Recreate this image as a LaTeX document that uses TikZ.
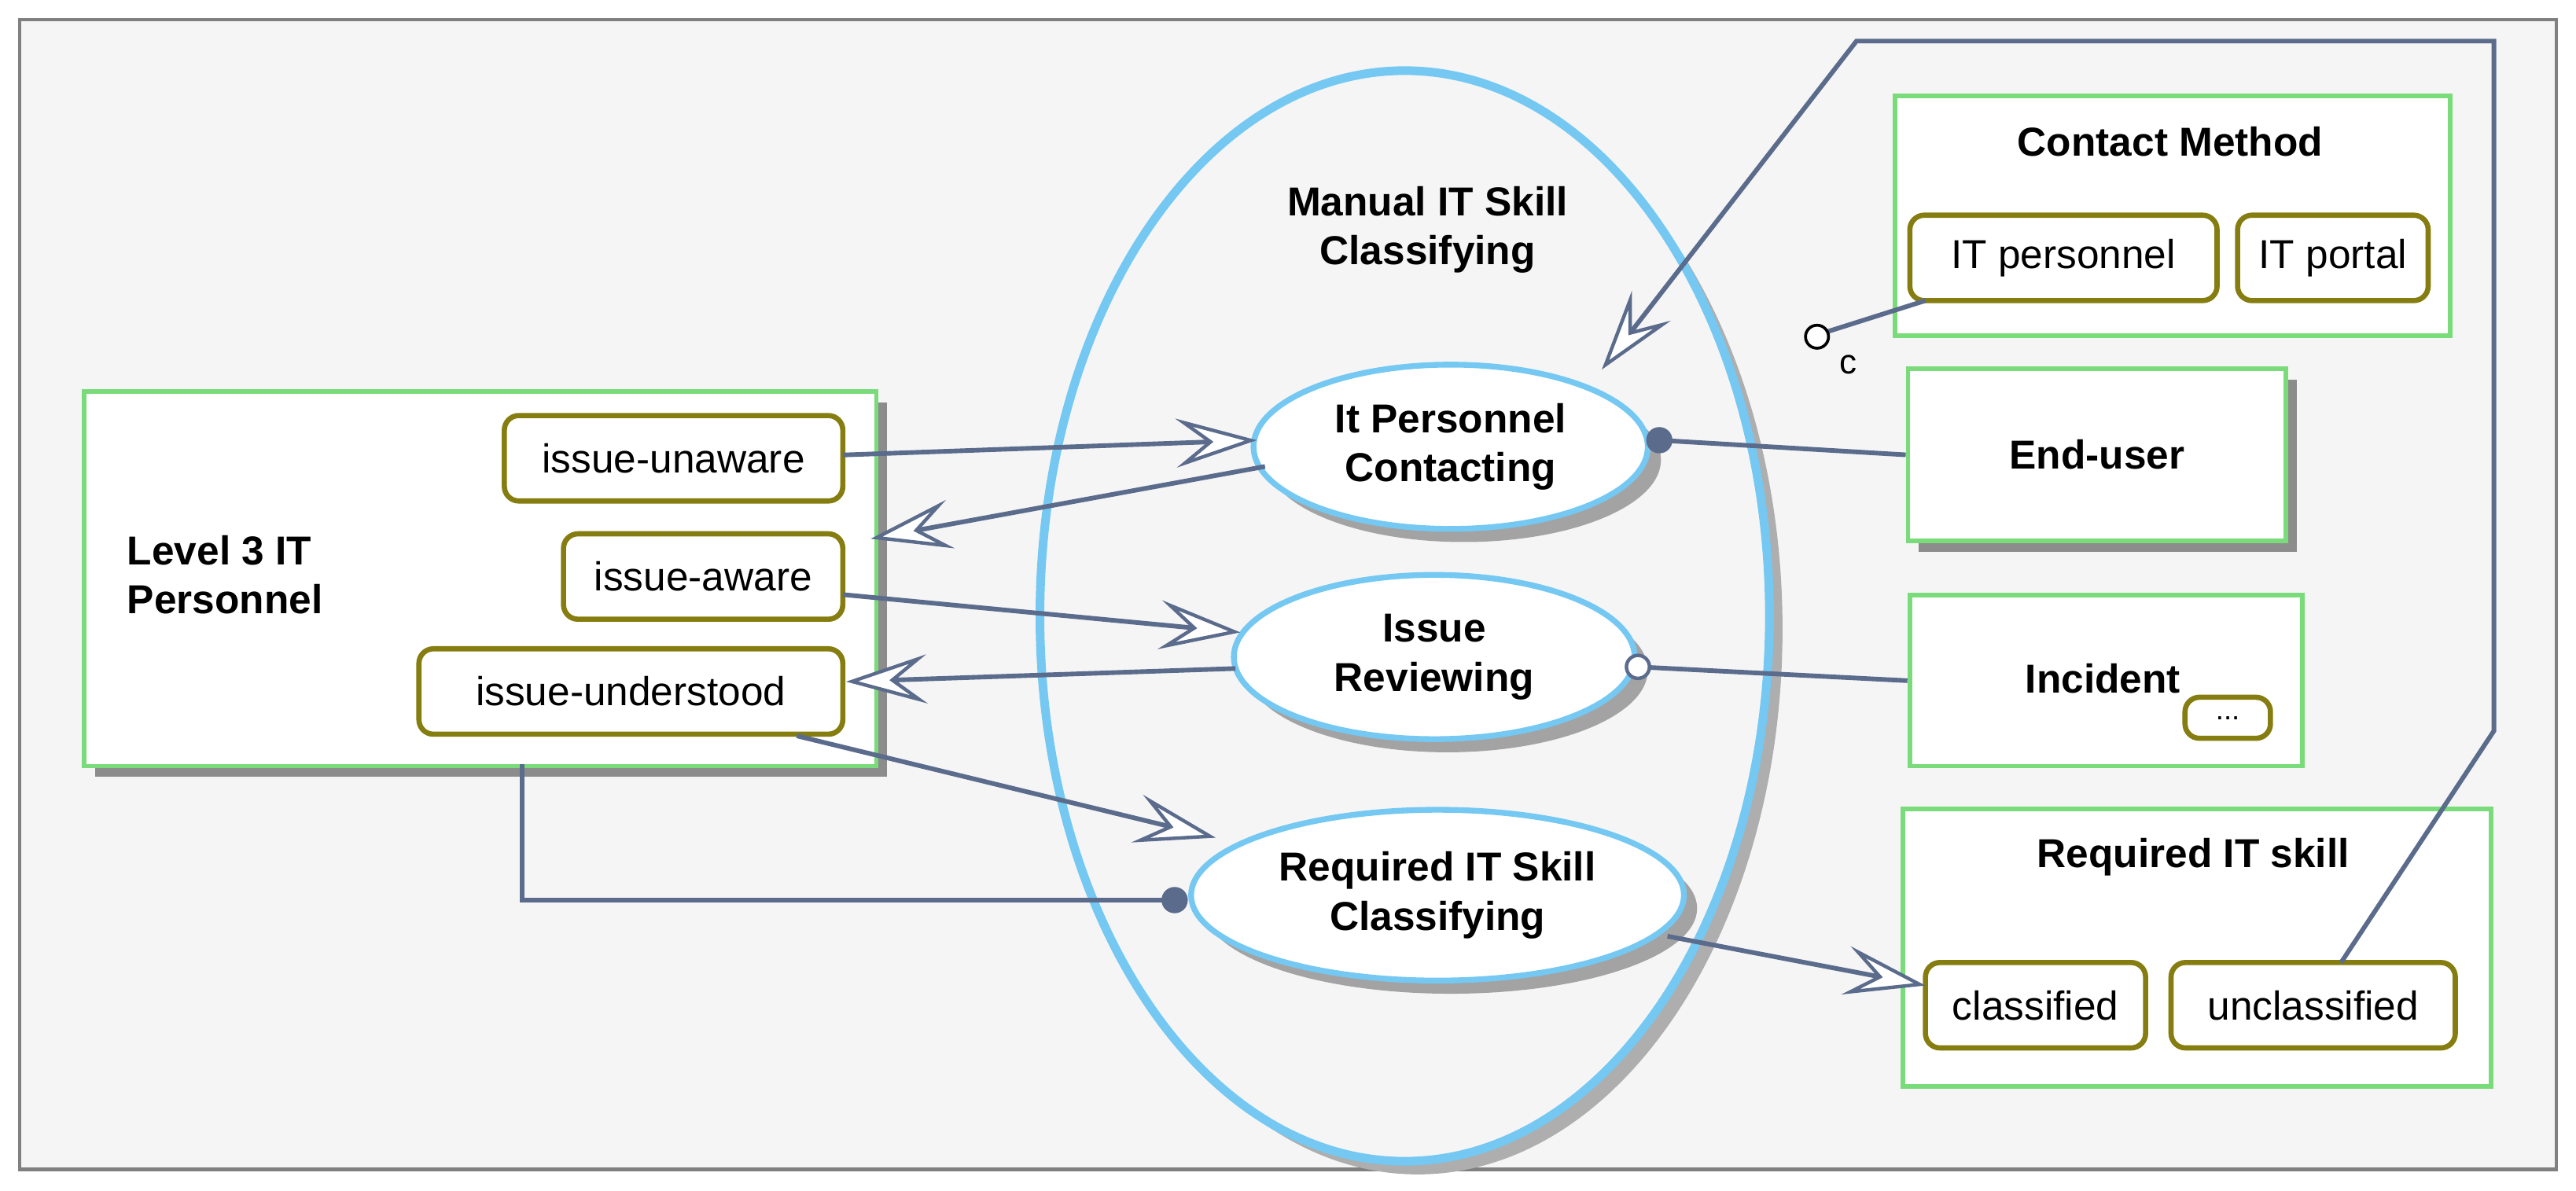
\documentclass[tikz,border=0pt]{standalone}
\usepackage{fontspec}
\setmainfont{Liberation Sans}
\usetikzlibrary{arrows.meta,shapes.geometric,positioning,calc}
\definecolor{gbox}{HTML}{7ADB7A}
\definecolor{olv}{HTML}{857D10}
\definecolor{lnk}{HTML}{5A6B8C}
\definecolor{blu}{HTML}{74C8F2}
\definecolor{bg}{HTML}{F5F5F5}
\definecolor{shd}{HTML}{8C8C8C}
\begin{document}
\begin{tikzpicture}[x=0.02cm,y=-0.02cm,
  txt/.style={font=\fontsize{14}{17}\selectfont},
  btxt/.style={font=\bfseries\fontsize{14}{17}\selectfont,align=center},
  obj/.style={draw=gbox,line width=1.6pt,fill=white},
  st/.style={draw=olv,line width=1.8pt,rounded corners=5pt,fill=white,txt},
  proc/.style={ellipse,draw=blu,line width=2pt,fill=white},
  lk/.style={draw=lnk,line width=1.6pt},
  ar/.style={lk,-{Stealth[open,length=28pt,width=17pt,inset=11pt,fill=white,line width=1.2pt]}}]
\useasboundingbox (0,0) rectangle (1568,725);
\draw[gray,line width=1.2pt,fill=bg] (12,12) rectangle (1556,712);
% shadows
\foreach \a/\b/\c/\d in {50/237/532/465,1160/223/1390/328}
  \fill[shd] (\a+8,\b+8) rectangle (\c+8,\d+8);
\fill[shd!70] (863,383) ellipse [x radius=222,y radius=332];
% big ellipse
\draw[blu,line width=3pt,fill=bg] (855,375) ellipse [x radius=222,y radius=332];
\node[btxt] (mt) at (869,140) {Manual IT Skill\\Classifying};
% objects
\node[obj,minimum width=482*0.02cm,minimum height=228*0.02cm,anchor=north west] (l3) at (50,237) {};
\node[btxt,align=left] (l3t) at (137,350) {Level 3 IT\\Personnel};
\node[obj,minimum width=338*0.02cm,minimum height=146*0.02cm,anchor=north west] (cm) at (1152,57) {};
\node[btxt] (cmt) at (1321,86) {Contact Method};
\node[obj,minimum width=230*0.02cm,minimum height=105*0.02cm,anchor=north west] (eu) at (1160,223) {};
\node[btxt] at (eu.center) {End-user};
\node[obj,minimum width=239*0.02cm,minimum height=104*0.02cm,anchor=north west] (inc) at (1161,361) {};
\node[btxt] at (1280,413) {Incident};
\node[obj,minimum width=358*0.02cm,minimum height=169*0.02cm,anchor=north west] (ris) at (1157,491) {};
\node[btxt] (rist) at (1335,522) {Required IT skill};
% states
\node[st,minimum width=206*0.02cm,minimum height=52*0.02cm] (su) at (410,279) {issue-unaware};
\node[st,minimum width=170*0.02cm,minimum height=52*0.02cm] (sa) at (428,351) {issue-aware};
\node[st,minimum width=258*0.02cm,minimum height=52*0.02cm] (sd) at (384,421) {issue-understood};
\node[st,minimum width=187*0.02cm,minimum height=52*0.02cm] (sp) at (1256,157) {IT personnel};
\node[st,minimum width=116*0.02cm,minimum height=52*0.02cm] (spo) at (1420,157) {IT portal};
\node[st,minimum width=52*0.02cm,minimum height=25*0.02cm,font=\fontsize{10}{12}\selectfont,inner sep=1pt] (dots) at (1356,437) {...};
\node[st,minimum width=134*0.02cm,minimum height=52*0.02cm] (sc) at (1239,612) {classified};
\node[st,minimum width=173*0.02cm,minimum height=52*0.02cm] (sun) at (1408,612) {unclassified};
% processes
\fill[shd!80] (891,280) ellipse [x radius=120,y radius=50];
\fill[shd!80] (881,408) ellipse [x radius=122,y radius=50];
\fill[shd!80] (883,553) ellipse [x radius=150,y radius=52];
\node[proc,minimum width=240*0.02cm,minimum height=100*0.02cm,btxt] (p1) at (883,272) {It Personnel\\Contacting};
\node[proc,minimum width=244*0.02cm,minimum height=100*0.02cm,btxt] (p2) at (873,400) {Issue\\Reviewing};
\node[proc,minimum width=300*0.02cm,minimum height=104*0.02cm,btxt] (p3) at (875,545) {Required IT Skill\\Classifying};
% arrows
\coordinate (a1s) at (513,277); \coordinate (a1e) at (765,268);
\draw[ar] (a1s) -- (a1e);
\coordinate (a2s) at (770,284); \coordinate (a2e) at (530,328);
\draw[ar] (a2s) -- (a2e);
\coordinate (a3s) at (513,362); \coordinate (a3e) at (755,385);
\draw[ar] (a3s) -- (a3e);
\coordinate (a4s) at (752,407); \coordinate (a4e) at (515,415);
\draw[ar] (a4s) -- (a4e);
\coordinate (a5s) at (485,448); \coordinate (a5e) at (740,510);
\draw[ar] (a5s) -- (a5e);
\coordinate (a6s) at (1015,570); \coordinate (a6e) at (1172,600);
\draw[ar] (a6s) -- (a6e);
% agent link
\coordinate (ag1) at (318,465); \coordinate (ag2) at (715,548);
\draw[lk] (ag1) |- (ag2);
\fill[lnk] (ag2) circle (8);
% end-user link
\coordinate (eu1) at (1010,268);
\draw[lk] (eu1) -- (eu.west);
\fill[lnk] (eu1) circle (8);
% incident link
\coordinate (in1) at (997,406);
\draw[lk] (in1) -- (inc.west);
\draw[lnk,line width=1.2pt,fill=white] (in1) circle (7);
% condition link
\coordinate (cc) at (1106,205);
\coordinate (cp) at (1172,183);
\draw[lk] (cp) -- ($(cc)+(6,-3)$);
\draw[black,line width=1pt,fill=white] (cc) circle (7);
\node[font=\fontsize{12}{14}\selectfont] (ccl) at (1125,222) {c};
% invocation
\coordinate (i0) at (1425,586);
\coordinate (i1) at (1518,445); \coordinate (i2) at (1518,25); \coordinate (i3) at (1130,25); \coordinate (i4) at (975,225);
\draw[ar] (i0) -- (i1) -- (i2) -- (i3) -- (i4);
\end{tikzpicture}
\end{document}
